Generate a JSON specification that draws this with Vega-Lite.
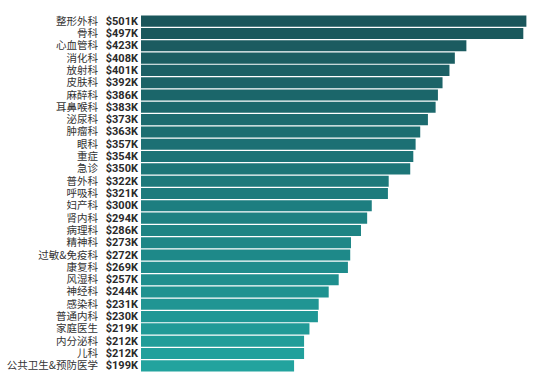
{
  "$schema": "https://vega.github.io/schema/vega-lite/v6.json",
  "autosize": {"type": "none"},
  "width": 400,
  "height": 357,
  "padding": {"left": 141, "top": 15, "right": 7, "bottom": 7},
  "background": "white",
  "config": {"view": {"stroke": null}},
  "data": {
    "values": [
      {"name": "整形外科", "value": 501},
      {"name": "骨科", "value": 497},
      {"name": "心血管科", "value": 423},
      {"name": "消化科", "value": 408},
      {"name": "放射科", "value": 401},
      {"name": "皮肤科", "value": 392},
      {"name": "麻醉科", "value": 386},
      {"name": "耳鼻喉科", "value": 383},
      {"name": "泌尿科", "value": 373},
      {"name": "肿瘤科", "value": 363},
      {"name": "眼科", "value": 357},
      {"name": "重症", "value": 354},
      {"name": "急诊", "value": 350},
      {"name": "普外科", "value": 322},
      {"name": "呼吸科", "value": 321},
      {"name": "妇产科", "value": 300},
      {"name": "肾内科", "value": 294},
      {"name": "病理科", "value": 286},
      {"name": "精神科", "value": 273},
      {"name": "过敏&免疫科", "value": 272},
      {"name": "康复科", "value": 269},
      {"name": "风湿科", "value": 257},
      {"name": "神经科", "value": 244},
      {"name": "感染科", "value": 231},
      {"name": "普通内科", "value": 230},
      {"name": "家庭医生", "value": 219},
      {"name": "内分泌科", "value": 212},
      {"name": "儿科", "value": 212},
      {"name": "公共卫生&预防医学", "value": 199}
    ]
  },
  "transform": [
    {"window": [{"op": "row_number", "as": "rank"}]},
    {"calculate": "'$' + datum.value + 'K'", "as": "amount"}
  ],
  "encoding": {
    "y": {
      "field": "name",
      "type": "nominal",
      "sort": {"field": "rank", "order": "ascending"},
      "axis": null,
      "scale": {"paddingInner": 0.1, "paddingOuter": 0.05}
    }
  },
  "layer": [
    {
      "mark": {"type": "bar"},
      "encoding": {
        "x": {"field": "value", "type": "quantitative", "axis": null, "scale": {"domain": [0, 520], "nice": false, "zero": true}},
        "color": {
          "field": "rank",
          "type": "quantitative",
          "legend": null,
          "scale": {"domain": [1, 29], "range": ["#1a565b", "#22a39e"]}
        }
      }
    },
    {
      "mark": {"type": "text", "align": "right", "baseline": "middle", "dx": -3, "dy": 0.5, "font": "Roboto", "fontWeight": "bold", "fontSize": 11, "color": "#2a2a2a"},
      "encoding": {
        "x": {"datum": 0, "type": "quantitative"},
        "text": {"field": "amount", "type": "nominal"}
      }
    },
    {
      "mark": {"type": "text", "align": "right", "baseline": "middle", "dx": -43, "dy": 0.5, "font": "Noto Sans CJK SC", "fontSize": 10.5, "color": "#333333"},
      "encoding": {
        "x": {"datum": 0, "type": "quantitative"},
        "text": {"field": "name", "type": "nominal"}
      }
    }
  ]
}
